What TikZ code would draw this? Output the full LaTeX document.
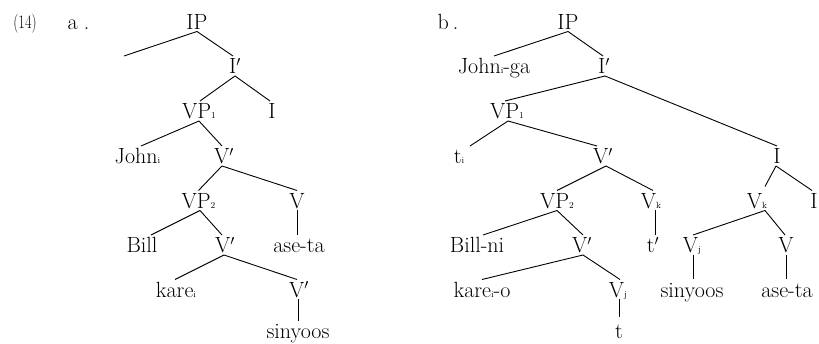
\documentclass[tikz,border=0pt]{standalone}
\usepackage{graphicx}
\newcommand\sbx[1]{{\fontsize{9}{9}\selectfont #1}}
\begin{document}
\begin{tikzpicture}[x=1pt,y=-1pt,
  lbl/.style={anchor=base,inner sep=0pt,outer sep=0pt,text height=18pt,text depth=2pt,font=\fontsize{22}{26}\selectfont},
  br/.style={line width=0.9pt}]
\useasboundingbox (0,0) rectangle (819,344);
% labels
\node[lbl,font=\fontsize{19}{22}\selectfont] (n14) at (25,29) {\scalebox{0.75}[1]{(14)}};
\node[lbl] (la) at (78.5,29.5) {a\hspace{6pt}.};
\node[lbl] (lb) at (448,29.5) {b\hspace{4pt}.};
% tree a
\node[lbl] (IPa) at (197,29.5) {IP};
\coordinate (Ea) at (124,56);
\node[lbl] (Ipa) at (235,74) {I$'$};
\node[lbl] (VPia) at (199,119) {VP\sbx{1}};
\node[lbl] (Ia) at (272,119) {I};
\node[lbl] (Johna) at (137.5,164) {John\sbx{i}};
\node[lbl] (Vpa) at (224,164) {V$'$};
\node[lbl] (VPiia) at (198.5,208.5) {VP\sbx{2}};
\node[lbl] (Va) at (297,208.5) {V};
\node[lbl] (Billa) at (142,253) {Bill};
\node[lbl] (Vppa) at (225,253) {V$'$};
\node[lbl] (asea) at (299,253) {ase-ta};
\node[lbl] (karea) at (176,297.5) {kare\sbx{i}};
\node[lbl] (Vpppa) at (299,297.5) {V$'$};
\node[lbl] (sina) at (298,339) {sinyoos};
\draw[br] (IPa.south) -- (Ea);
\draw[br] (IPa.south) -- ([xshift=-2]Ipa.north);
\draw[br] (Ipa.south) -- ([xshift=1]VPia.north);
\draw[br] (Ipa.south) -- ([xshift=-2]Ia.north);
\draw[br] (VPia.south) -- ([xshift=3.5]Johna.north);
\draw[br] (VPia.south) -- ([xshift=-2]Vpa.north);
\draw[br] ([xshift=-2]Vpa.south) -- (VPiia.north);
\draw[br] ([xshift=-2]Vpa.south) -- (Va.north);
\draw[br] ([xshift=1.5]VPiia.south) -- ([xshift=9]Billa.north);
\draw[br] ([xshift=1.5]VPiia.south) -- ([xshift=-3]Vppa.north);
\draw[br] (Va.south) -- ([xshift=-2]asea.north);
\draw[br] ([xshift=-1]Vppa.south) -- ([xshift=-1]karea.north);
\draw[br] ([xshift=-1]Vppa.south) -- ([xshift=-2]Vpppa.north);
\draw[br] ([xshift=-1]Vpppa.south) -- (sina.north);
% tree b
\node[lbl] (IPb) at (568,29.5) {IP};
\node[lbl] (Johnb) at (494,74) {John\sbx{i}-ga};
\node[lbl] (Ipb) at (604,74) {I$'$};
\node[lbl] (VPib) at (507,119) {VP\sbx{1}};
\node[lbl] (tib) at (459,164) {t\sbx{i}};
\node[lbl] (Vpb) at (603,164) {V$'$};
\node[lbl] (Ib) at (777,164) {I};
\node[lbl] (VPiib) at (557,208.5) {VP\sbx{2}};
\node[lbl] (Vkb) at (651,208.5) {V\sbx{k}};
\node[lbl] (Vkkb) at (757,208.5) {V\sbx{k}};
\node[lbl] (Iib) at (814,208.5) {I};
\node[lbl] (Billb) at (477,253) {Bill-ni};
\node[lbl] (Vppb) at (582,253) {V$'$};
\node[lbl] (tpb) at (653,253) {t$'$};
\node[lbl] (Vjb) at (692,253) {V\sbx{j}};
\node[lbl] (Vb) at (786,253) {V};
\node[lbl] (kareb) at (482,297.5) {kare\sbx{i}-o};
\node[lbl] (Vjjb) at (618,297.5) {V\sbx{j}};
\node[lbl] (sinb) at (692,297.5) {sinyoos};
\node[lbl] (aseb) at (787,297.5) {ase-ta};
\node[lbl] (tb) at (619,339) {t};
\draw[br] (IPb.south) -- (Johnb.north);
\draw[br] (IPb.south) -- ([xshift=-1]Ipb.north);
\draw[br] ([xshift=1]Ipb.south) -- ([xshift=-2]VPib.north);
\draw[br] ([xshift=1]Ipb.south) -- (Ib.north);
\draw[br] ([xshift=1]VPib.south) -- ([xshift=11]tib.north);
\draw[br] ([xshift=1]VPib.south) -- ([xshift=-6]Vpb.north);
\draw[br] ([xshift=3]Vpb.south) -- (VPiib.north);
\draw[br] ([xshift=3]Vpb.south) -- ([xshift=2]Vkb.north);
\draw[br] ([xshift=-1]Ib.south) -- ([xshift=8,yshift=4]Vkkb.north);
\draw[br] ([xshift=-1]Ib.south) -- ([xshift=-2]Iib.north);
\draw[br] (VPiib.south) -- ([xshift=6]Billb.north);
\draw[br] (VPiib.south) -- ([xshift=1]Vppb.north);
\draw[br] ([xshift=4]Vkb.south) -- ([xshift=2]tpb.north);
\draw[br] ([xshift=8]Vkkb.south) -- ([xshift=1]Vjb.north);
\draw[br] ([xshift=8]Vkkb.south) -- ([xshift=-1]Vb.north);
\draw[br] ([xshift=1]Vppb.south) -- (kareb.north);
\draw[br] ([xshift=1]Vppb.south) -- ([xshift=2]Vjjb.north);
\draw[br] ([xshift=1]Vjb.south) -- ([xshift=1]sinb.north);
\draw[br] (Vb.south) -- ([xshift=-1]aseb.north);
\draw[br] ([xshift=1]Vjjb.south) -- ([yshift=4]tb.north);
\end{tikzpicture}
\end{document}
